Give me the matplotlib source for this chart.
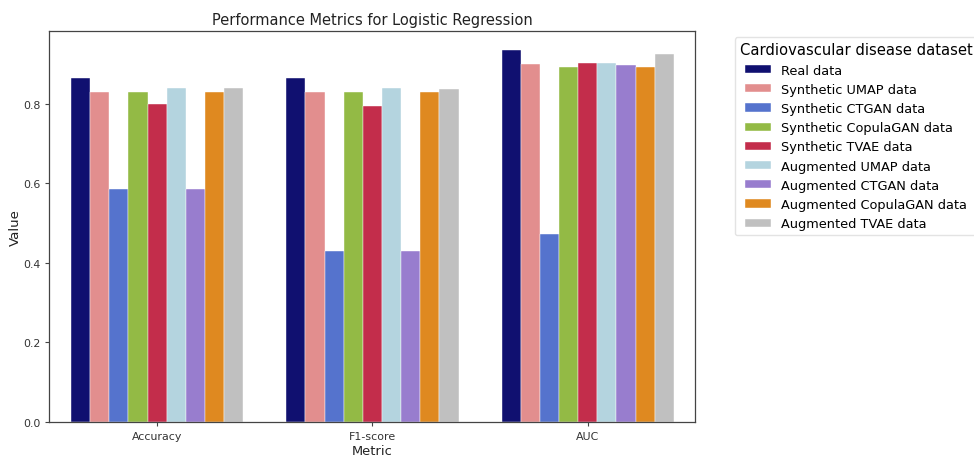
import matplotlib
matplotlib.use("Agg")
import matplotlib.pyplot as plt
import numpy as np
import seaborn as sns

metrics = ["Accuracy", "F1-score", "AUC"]
datasets = ["Real data", "Synthetic UMAP data", "Synthetic CTGAN data",
            "Synthetic CopulaGAN data", "Synthetic TVAE data",
            "Augmented UMAP data", "Augmented CTGAN data",
            "Augmented CopulaGAN data", "Augmented TVAE data"]

real = [0.866, 0.866, 0.936]
syn_umap = [0.830, 0.830, 0.901]
syn_ctgan = [0.586, 0.431, 0.473]
syn_copula = [0.830, 0.830, 0.893]
syn_tvae = [0.800, 0.796, 0.904]
aug_umap = [0.840, 0.840, 0.904]
aug_ctgan = [0.586, 0.431, 0.899]
aug_copula = [0.830, 0.830, 0.893]
aug_tvae = [0.840, 0.838, 0.925]
values = [real, syn_umap, syn_ctgan, syn_copula, syn_tvae,
          aug_umap, aug_ctgan, aug_copula, aug_tvae]

base_colors = ["navy", "lightcoral", "royalblue", "yellowgreen", "crimson",
               "lightblue", "mediumpurple", "darkorange", "silver"]
colors = [sns.desaturate(c, 0.75) for c in base_colors]

fig = plt.figure(figsize=(9.74, 4.56), dpi=100)
ax = fig.add_axes([0.0508, 0.0724, 0.6632, 0.8568])

x = np.arange(len(metrics))
n = len(datasets)
w = 0.8 / n
for i, (name, vals) in enumerate(zip(datasets, values)):
    ax.bar(x - 0.4 + w * (i + 0.5), vals, width=w, color=colors[i],
           edgecolor="white", linewidth=0.3, label=name)

ax.set_xlim(-0.5, 2.5)
ax.set_ylim(0, max(max(v) for v in values) * 1.05)
ax.set_yticks([0.0, 0.2, 0.4, 0.6, 0.8])
ax.set_xticks(x)
ax.set_xticklabels(metrics)
ax.tick_params(axis="both", labelsize=7.9, colors="#444444", labelcolor="#333333",
               length=3, width=0.8)
for s in ax.spines.values():
    s.set_color("#444444")
    s.set_linewidth(0.9)
ax.set_xlabel("Metric", fontsize=9.4, color="#222222", labelpad=2)
ax.set_ylabel("Value", fontsize=9.6, color="#222222", labelpad=1)
ax.set_title("Performance Metrics for Logistic Regression", fontsize=10.5,
             color="#222222", pad=5)

leg = fig.legend(loc="upper left", bbox_to_anchor=(734.7 / 974, 1 - 38.3 / 456),
                 borderaxespad=0, fontsize=9.3, title="Cardiovascular disease dataset",
                 title_fontsize=10.6, frameon=True, labelspacing=0.48,
                 handlelength=2.0, handleheight=0.6)
leg.get_frame().set_edgecolor("#dddddd")

fig.savefig("out.png", dpi=100)
